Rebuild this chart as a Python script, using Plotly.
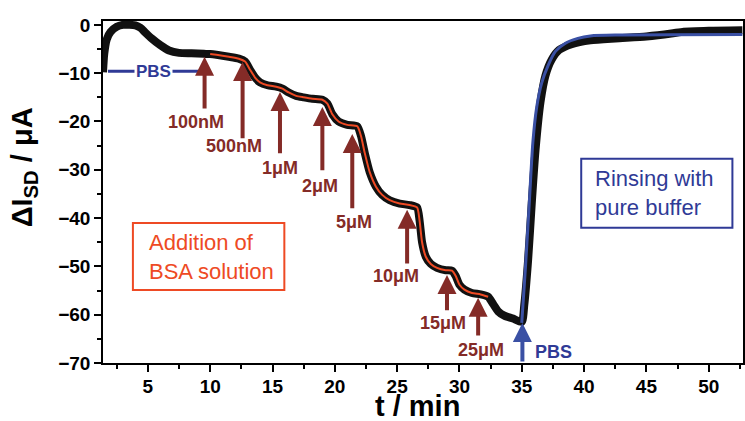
import plotly.graph_objects as go

# ---------------- data ----------------
t_min = [1.4, 1.5, 1.7, 2.0, 2.5, 3.0, 3.5, 4.0, 4.4, 4.8, 5.3, 6.0, 6.7, 7.5, 8.5, 9.5,
         10.0, 10.5, 11.5, 12.3, 12.8, 13.2, 13.6, 14.0, 14.6, 15.3, 15.8, 16.3, 16.9, 17.5,
         18.2, 19.0, 19.4, 19.8, 20.3, 21.0, 21.8, 22.1, 22.4, 22.8, 23.3, 23.8, 24.4, 25.2,
         26.0, 26.6, 26.8, 27.0, 27.3, 27.7, 28.2, 28.9, 29.4, 29.7, 30.0, 30.4, 31.0, 31.7,
         32.3, 32.7, 33.1, 33.6, 34.3, 35.0, 35.2, 35.5, 35.8, 36.1, 36.5, 36.9, 37.4, 38.0,
         39.0, 40.5, 42.5, 45.0, 47.0, 48.0, 50.0, 52.7]
dI_sd = [-9.8, -6.0, -3.0, -1.5, -0.4, 0.0, 0.0, -0.1, -0.6, -1.6, -2.8, -4.2, -5.3, -5.8, -5.9, -6.0,
         -6.05, -6.2, -6.6, -7.0, -7.6, -9.3, -10.9, -11.9, -12.5, -12.8, -13.2, -14.0, -14.7, -15.0,
         -15.3, -15.5, -16.3, -18.5, -20.0, -20.7, -21.0, -23.0, -26.5, -30.5, -33.5, -35.2, -36.3, -37.0,
         -37.3, -37.8, -40.5, -45.0, -48.0, -49.5, -50.3, -50.8, -50.9, -52.0, -53.8, -54.8, -55.5, -55.8,
         -56.3, -57.8, -59.3, -60.2, -60.8, -61.5, -58.0, -49.0, -37.0, -26.0, -16.0, -10.5, -7.2, -5.2,
         -4.0, -3.2, -2.8, -2.4, -1.8, -1.4, -1.2, -1.1]

# fitted step region (red) taken from the measurement between these times
fit_t_start, fit_t_end = 10.0, 32.3

# rinsing fit (blue)
rinse_t = [35.0, 35.3, 35.6, 35.9, 36.2, 36.6, 37.1, 37.7, 38.5, 39.5, 40.5, 43.0, 52.7]
rinse_v = [-61.7, -50.0, -37.0, -24.0, -17.0, -12.0, -8.5, -5.5, -3.8, -2.8, -2.3, -2.1, -2.0]

# additions of BSA: label, time, arrow tip, arrow tail, label x, label y
add_labels = ["100nM", "500nM", "1μM", "2μM", "5μM", "10μM", "15μM", "25μM"]
add_t      = [9.55, 12.6, 15.6, 19.0, 21.4, 25.8, 29.0, 31.5]
add_tip    = [-6.6, -7.7, -13.9, -17.0, -22.6, -38.3, -51.8, -56.5]
add_tail   = [-17.6, -23.8, -26.9, -30.4, -38.3, -49.7, -59.4, -64.6]
lab_t      = [8.9, 11.95, 15.6, 18.8, 21.5, 24.9, 28.7, 31.7]
lab_v      = [-20.1, -25.0, -29.6, -33.3, -40.8, -52.0, -61.7, -67.3]

x_ticks = [5, 10, 15, 20, 25, 30, 35, 40, 45, 50]
y_ticks = [0, -10, -20, -30, -40, -50, -60, -70]

# ---------------- figure ----------------
BLACK = "#111111"
RED = "#ee4a24"
BLUE = "#3a50a4"
NAVY = "#2f3a96"
BROWN = "#842b27"
FONT = "Liberation Sans, Arial, sans-serif"

red_t = [t for t in t_min if fit_t_start <= t <= fit_t_end]
red_v = [v for t, v in zip(t_min, dI_sd) if fit_t_start <= t <= fit_t_end]

fig = go.Figure()
fig.add_trace(go.Scatter(x=t_min, y=dI_sd, mode="lines",
                         line=dict(color=BLACK, width=8, shape="spline", smoothing=0.6),
                         hoverinfo="skip", showlegend=False))
fig.add_trace(go.Scatter(x=red_t, y=red_v, mode="lines",
                         line=dict(color=RED, width=2, shape="spline", smoothing=0.6),
                         hoverinfo="skip", showlegend=False))
fig.add_trace(go.Scatter(x=rinse_t, y=rinse_v, mode="lines",
                         line=dict(color=BLUE, width=3, shape="spline", smoothing=0.8),
                         hoverinfo="skip", showlegend=False))

annotations = []
for lab, t, tip, tail, lx, ly in zip(add_labels, add_t, add_tip, add_tail, lab_t, lab_v):
    annotations.append(dict(x=t, y=tip, ax=t, ay=tail, axref="x", ayref="y", xref="x", yref="y",
                            text="", showarrow=True, arrowhead=2, arrowsize=0.95, arrowwidth=4,
                            arrowcolor=BROWN))
    annotations.append(dict(x=lx, y=ly, xref="x", yref="y", text=lab, showarrow=False,
                            font=dict(family=FONT, size=18, color=BROWN, weight="bold"),
                            xanchor="center", yanchor="middle"))

# rinse PBS arrow
annotations.append(dict(x=35.05, y=-61.7, ax=35.05, ay=-70, axref="x", ayref="y", xref="x", yref="y",
                        text="", showarrow=True, arrowhead=2, arrowsize=0.95, arrowwidth=4,
                        arrowcolor=BLUE))
annotations.append(dict(x=35.9, y=-67.7, xref="x", yref="y", text="PBS", showarrow=False,
                        font=dict(family=FONT, size=18, color=NAVY, weight="bold"),
                        xanchor="left", yanchor="middle"))
# initial PBS label on line
annotations.append(dict(x=5.45, y=-9.6, xref="x", yref="y", text="PBS", showarrow=False,
                        bgcolor="white", borderpad=1,
                        font=dict(family=FONT, size=17, color=NAVY, weight="bold"),
                        xanchor="center", yanchor="middle"))
# boxes text
annotations.append(dict(x=4.95, y=-48.0, xref="x", yref="y",
                        text="Addition of<br>BSA solution", showarrow=False, align="left",
                        font=dict(family=FONT, size=22, color=RED),
                        xanchor="left", yanchor="middle"))
annotations.append(dict(x=40.7, y=-34.9, xref="x", yref="y",
                        text="Rinsing with<br>pure buffer", showarrow=False, align="left",
                        font=dict(family=FONT, size=22, color=NAVY),
                        xanchor="left", yanchor="middle"))
# axis titles
annotations.append(dict(x=0.491, y=-0.1784, xref="paper", yref="paper", text="t / min",
                        showarrow=False, xanchor="center", yanchor="bottom",
                        font=dict(family=FONT, size=29, color="black", weight="bold")))
annotations.append(dict(x=-0.123, y=0.573, xref="paper", yref="paper",
                        text="ΔI<sub>SD</sub> / μA", textangle=-90,
                        showarrow=False, xanchor="center", yanchor="middle",
                        font=dict(family=FONT, size=29, color="black", weight="bold")))

shapes = [
    dict(type="line", xref="x", yref="y", x0=1.8, x1=9.1, y0=-9.6, y1=-9.6,
         line=dict(color=NAVY, width=3)),
    dict(type="rect", xref="x", yref="y", x0=3.8, x1=15.95, y0=-41.0, y1=-54.9,
         line=dict(color=RED, width=2)),
    dict(type="rect", xref="x", yref="y", x0=39.77, x1=51.9, y0=-27.7, y1=-42.0,
         line=dict(color=NAVY, width=2)),
]

fig.update_layout(
    width=745, height=421,
    margin=dict(l=103, r=0, t=21, b=58),
    paper_bgcolor="white", plot_bgcolor="white",
    annotations=annotations, shapes=shapes,
    font=dict(family=FONT, color="black"),
)
fig.update_xaxes(
    range=[1.4, 52.75], tickvals=x_ticks, ticks="outside", ticklen=7, tickwidth=1.5,
    tickcolor="black", showline=True, linecolor="black", linewidth=1.5, mirror=True,
    showgrid=False, zeroline=False, ticklabelstandoff=-2,
    minor=dict(dtick=2.5, tick0=0, ticks="outside", ticklen=4, tickwidth=1.5, tickcolor="black"),
    tickfont=dict(family=FONT, size=19, weight="bold"),
)
fig.update_yaxes(
    range=[-70, 0.8], tickvals=y_ticks, ticks="outside", ticklen=7, tickwidth=1.5,
    tickcolor="black", showline=True, linecolor="black", linewidth=1.5, mirror=True,
    showgrid=False, zeroline=False,
    minor=dict(dtick=5, tick0=0, ticks="outside", ticklen=4, tickwidth=1.5, tickcolor="black"),
    tickfont=dict(family=FONT, size=19, weight="bold"),
)

fig.write_html("out.html")
